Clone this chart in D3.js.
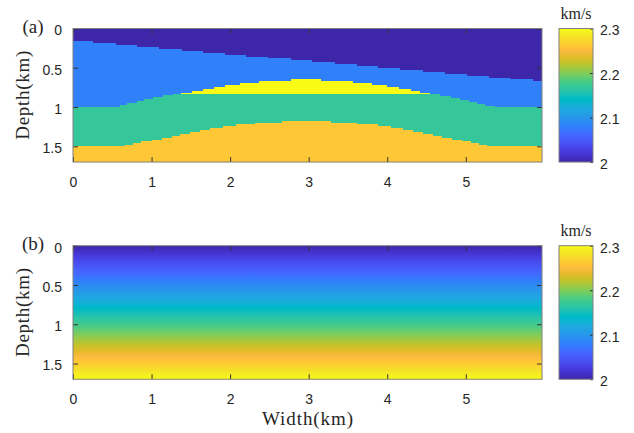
<!DOCTYPE html>
<html>
<head>
<meta charset="utf-8">
<script src="https://cdn.jsdelivr.net/npm/d3@7"></script>
<style>
body { margin: 0; background: #fff; }
.tick text { font-family: "Liberation Sans", Arial, sans-serif; font-size: 14px; fill: #262626; }
.lbl { font-family: "Liberation Serif", "Times New Roman", serif; fill: #262626; }
</style>
</head>
<body>
<svg id="fig" width="634" height="433"></svg>
<script>
(function () {
"use strict";

// model size in km
var widthKm = 5.97,
    depthKm = 1.7;

var xTicks = [0, 1, 2, 3, 4, 5],
    yTicks = [0, 0.5, 1, 1.5],
    cbTicks = [2, 2.1, 2.2, 2.3],
    cbRange = [2, 2.3];

// panel (a) layer velocities, km/s
var vCap = 2.0,
    vSand = 2.08,
    vGas = 2.3,
    vWater = 2.17,
    vBase = 2.26;

// panel (a) interfaces: [x km, depth km] where each step starts
var horizon1 = [[0, 0.16], [0.25, 0.19], [0.55, 0.215], [0.81, 0.24], [1.09, 0.265], [1.39, 0.29],
    [1.65, 0.31], [1.93, 0.335], [2.2, 0.36], [2.48, 0.38], [2.77, 0.405], [3.04, 0.43], [3.33, 0.453],
    [3.61, 0.48], [3.88, 0.505], [4.16, 0.53], [4.45, 0.555], [4.73, 0.577], [5.01, 0.6], [5.29, 0.625],
    [5.56, 0.648], [5.85, 0.67]];

var horizon2 = [[0, 1.0], [0.6, 0.975], [0.69, 0.95], [0.81, 0.925], [0.9, 0.9], [1.02, 0.875],
    [1.15, 0.85], [1.27, 0.835], [1.38, 0.818], [1.51, 0.79], [1.65, 0.765], [1.79, 0.74], [1.93, 0.714],
    [2.13, 0.69], [2.37, 0.665], [2.78, 0.644], [3.16, 0.665], [3.57, 0.69], [3.81, 0.714], [4.0, 0.74],
    [4.15, 0.765], [4.3, 0.79], [4.42, 0.818], [4.55, 0.84], [4.67, 0.865], [4.81, 0.89], [4.92, 0.915],
    [5.04, 0.94], [5.14, 0.966], [5.25, 0.987], [5.37, 1.0]];

var gasContact = 0.835;

var horizon3 = [[0, 1.5], [0.66, 1.48], [0.77, 1.46], [0.87, 1.435], [1.0, 1.415], [1.13, 1.39],
    [1.26, 1.365], [1.36, 1.343], [1.49, 1.318], [1.62, 1.292], [1.74, 1.267], [1.91, 1.24], [2.08, 1.22],
    [2.32, 1.2], [2.66, 1.174], [3.28, 1.2], [3.61, 1.22], [3.88, 1.245], [4.05, 1.27], [4.2, 1.296],
    [4.33, 1.318], [4.46, 1.343], [4.58, 1.368], [4.7, 1.39], [4.82, 1.415], [4.95, 1.435], [5.06, 1.46],
    [5.17, 1.48], [5.27, 1.5]];

// panel (b): velocity goes linearly with depth
var gradDepth = [0, 1.7],
    gradVel = [2.0, 2.3];

// parula colormap (64)
var parula = [
[0.2422,0.1504,0.6603],[0.2504,0.1650,0.7076],[0.2578,0.1818,0.7511],[0.2647,0.1978,0.7952],
[0.2706,0.2147,0.8364],[0.2751,0.2342,0.8710],[0.2783,0.2559,0.8991],[0.2803,0.2782,0.9221],
[0.2813,0.3006,0.9414],[0.2810,0.3228,0.9579],[0.2795,0.3447,0.9717],[0.2760,0.3667,0.9829],
[0.2699,0.3892,0.9906],[0.2602,0.4123,0.9952],[0.2440,0.4358,0.9988],[0.2206,0.4603,0.9973],
[0.1963,0.4847,0.9892],[0.1834,0.5074,0.9798],[0.1786,0.5289,0.9682],[0.1764,0.5499,0.9520],
[0.1687,0.5703,0.9359],[0.1540,0.5902,0.9218],[0.1460,0.6091,0.9079],[0.1380,0.6276,0.8973],
[0.1248,0.6459,0.8883],[0.1113,0.6635,0.8763],[0.0952,0.6798,0.8598],[0.0689,0.6948,0.8394],
[0.0297,0.7082,0.8163],[0.0036,0.7203,0.7917],[0.0067,0.7312,0.7660],[0.0433,0.7411,0.7394],
[0.0964,0.7500,0.7120],[0.1408,0.7584,0.6842],[0.1717,0.7670,0.6554],[0.1938,0.7758,0.6251],
[0.2161,0.7843,0.5923],[0.2470,0.7918,0.5567],[0.2906,0.7973,0.5188],[0.3406,0.8008,0.4789],
[0.3909,0.8029,0.4354],[0.4456,0.8024,0.3909],[0.5044,0.7993,0.3480],[0.5616,0.7942,0.3045],
[0.6174,0.7876,0.2612],[0.6720,0.7793,0.2227],[0.7242,0.7698,0.1910],[0.7738,0.7598,0.1646],
[0.8203,0.7498,0.1535],[0.8634,0.7406,0.1596],[0.9035,0.7330,0.1774],[0.9393,0.7288,0.2100],
[0.9728,0.7298,0.2394],[0.9956,0.7434,0.2371],[0.9970,0.7659,0.2199],[0.9952,0.7893,0.2028],
[0.9892,0.8136,0.1885],[0.9786,0.8386,0.1766],[0.9676,0.8639,0.1643],[0.9610,0.8890,0.1537],
[0.9597,0.9135,0.1423],[0.9628,0.9373,0.1265],[0.9691,0.9606,0.1064],[0.9769,0.9839,0.0805]];

var parulaHex = parula.map(function (c) {
    return d3.rgb(c[0] * 255, c[1] * 255, c[2] * 255).formatHex();
});
var parulaVals = parula.map(function (c, i) {
    return cbRange[0] + (cbRange[1] - cbRange[0]) * i / (parula.length - 1);
});

var color = d3.scaleLinear().domain(parulaVals).range(parulaHex);

// layout
var plotLeft = 73,
    plotW = 469,
    panelTop = [28.5, 245.7],
    cbLeft = 559,
    cbW = 34,
    frameColor = "#808080",
    tickColor = "#333";

var x = d3.scaleLinear().domain([0, widthKm]).range([0, plotW]);
// axis equal
var y = d3.scaleLinear().domain([0, depthKm]).range([0, x(depthKm)]);
var plotH = y(depthKm);

var svg = d3.select("#fig");
svg.append("rect").attr("width", 634).attr("height", 433).attr("fill", "#fff");

var defs = svg.append("defs");

// panel (b) fill
var depthOf = d3.scaleLinear().domain(gradVel).range(gradDepth);
var vGrad = defs.append("linearGradient")
    .attr("id", "vgrad")
    .attr("x1", 0).attr("y1", 0).attr("x2", 0).attr("y2", 1);
vGrad.selectAll("stop")
    .data(parulaVals)
    .enter().append("stop")
    .attr("offset", function (v) { return depthOf(v) / depthKm; })
    .attr("stop-color", function (v) { return color(v); });

// colorbar fill
var cbGrad = defs.append("linearGradient")
    .attr("id", "cbgrad")
    .attr("x1", 0).attr("y1", 1).attr("x2", 0).attr("y2", 0);
cbGrad.selectAll("stop")
    .data(parulaVals)
    .enter().append("stop")
    .attr("offset", function (v, i) { return i / (parulaVals.length - 1); })
    .attr("stop-color", function (v) { return color(v); });

function extend(h) {
    return h.concat([[widthKm, h[h.length - 1][1]]]);
}

var area = d3.area()
    .curve(d3.curveStepAfter)
    .x(function (d) { return x(d[0]); })
    .y0(0)
    .y1(function (d) { return y(d[1]); });

function drawAxes(g) {
    g.append("g")
        .attr("transform", "translate(0," + plotH + ")")
        .call(d3.axisBottom(x).tickValues(xTicks).tickSize(-5).tickPadding(15)
            .tickFormat(function (d) { return String(d); }));
    g.append("g")
        .call(d3.axisTop(x).tickValues(xTicks).tickSize(-5).tickFormat(""));
    g.append("g")
        .call(d3.axisLeft(y).tickValues(yTicks).tickSize(-5).tickPadding(11)
            .tickFormat(function (d) { return String(d); }));
    g.append("g")
        .attr("transform", "translate(" + plotW + ",0)")
        .call(d3.axisRight(y).tickValues(yTicks).tickSize(-5).tickFormat(""));
    g.selectAll(".domain").remove();
    g.selectAll(".tick line").attr("stroke", tickColor);
    g.selectAll(".tick text").attr("dy", function () {
        return d3.select(this).attr("dy") === "0.32em" ? "0.45em" : d3.select(this).attr("dy");
    });
    g.append("rect")
        .attr("width", plotW)
        .attr("height", plotH)
        .attr("fill", "none")
        .attr("stroke", frameColor);
}

function drawColorbar(top) {
    var cb = svg.append("g").attr("transform", "translate(" + cbLeft + "," + top + ")");
    var cy = d3.scaleLinear().domain(cbRange).range([plotH, 0]);
    cb.append("rect")
        .attr("width", cbW)
        .attr("height", plotH)
        .attr("fill", "url(#cbgrad)");
    cb.append("g")
        .attr("transform", "translate(" + cbW + ",0)")
        .call(d3.axisRight(cy).tickValues(cbTicks).tickSize(-3).tickPadding(7)
            .tickFormat(function (d) { return String(d); }));
    cb.selectAll(".domain").remove();
    cb.selectAll(".tick line").attr("stroke", tickColor);
    cb.selectAll(".tick text").attr("dy", "0.45em");
    cb.append("rect")
        .attr("width", cbW)
        .attr("height", plotH)
        .attr("fill", "none")
        .attr("stroke", frameColor);
    cb.append("text")
        .attr("class", "lbl")
        .attr("x", cbW / 2)
        .attr("y", -10)
        .attr("text-anchor", "middle")
        .attr("font-size", "16px")
        .text("km/s");
}

function drawLabels(top, tag) {
    svg.append("text")
        .attr("class", "lbl")
        .attr("x", 33)
        .attr("y", top + 4)
        .attr("text-anchor", "middle")
        .attr("font-size", "19px")
        .text(tag);
    svg.append("text")
        .attr("class", "lbl")
        .attr("transform", "translate(29," + (top + plotH / 2) + ") rotate(-90)")
        .attr("text-anchor", "middle")
        .attr("font-size", "19px")
        .attr("textLength", 89)
        .attr("lengthAdjust", "spacing")
        .text("Depth(km)");
}

// panel (a): layered model
var ga = svg.append("g").attr("transform", "translate(" + plotLeft + "," + panelTop[0] + ")");
var layers = ga.append("g").attr("shape-rendering", "crispEdges");

layers.append("rect")
    .attr("width", plotW)
    .attr("height", plotH)
    .attr("fill", color(vBase));

layers.append("path")
    .datum(extend(horizon3))
    .attr("d", area)
    .attr("fill", color(vWater));

layers.append("rect")
    .attr("width", plotW)
    .attr("height", y(gasContact))
    .attr("fill", color(vGas));

layers.append("path")
    .datum(extend(horizon2))
    .attr("d", area)
    .attr("fill", color(vSand));

layers.append("path")
    .datum(extend(horizon1))
    .attr("d", area)
    .attr("fill", color(vCap));

drawAxes(ga);
drawColorbar(panelTop[0]);
drawLabels(panelTop[0], "(a)");

// panel (b): smooth gradient model
var gb = svg.append("g").attr("transform", "translate(" + plotLeft + "," + panelTop[1] + ")");

gb.append("rect")
    .attr("width", plotW)
    .attr("height", plotH)
    .attr("fill", "url(#vgrad)");

drawAxes(gb);
drawColorbar(panelTop[1]);
drawLabels(panelTop[1], "(b)");

svg.append("text")
    .attr("class", "lbl")
    .attr("x", plotLeft + plotW / 2)
    .attr("y", 425)
    .attr("text-anchor", "middle")
    .attr("font-size", "19px")
    .attr("textLength", 91)
    .attr("lengthAdjust", "spacing")
    .text("Width(km)");

})();
</script>
</body>
</html>
